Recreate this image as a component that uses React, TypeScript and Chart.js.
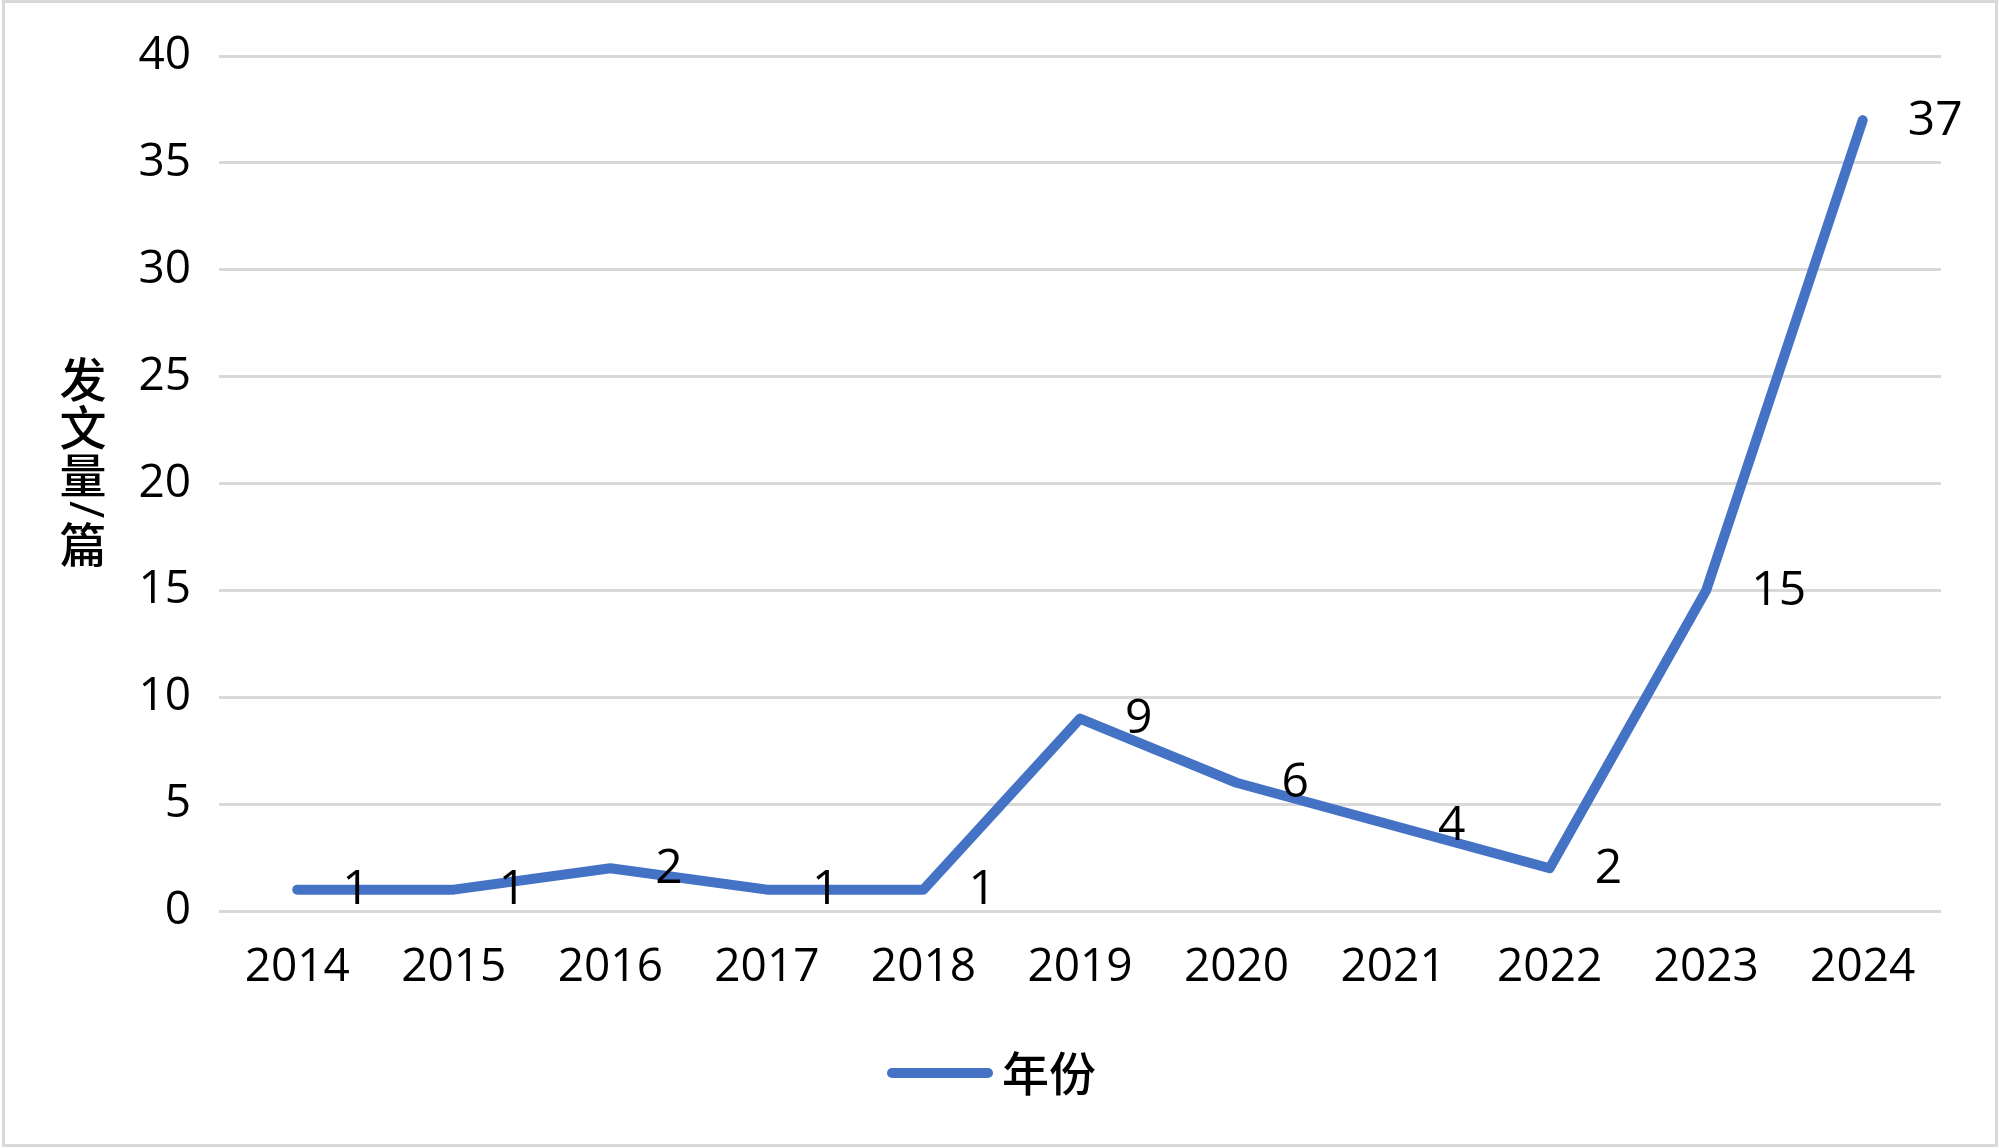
import React, { useEffect, useRef } from "react";
import { Chart, registerables } from "chart.js";

Chart.register(...registerables);

const years = ["2014", "2015", "2016", "2017", "2018", "2019", "2020", "2021", "2022", "2023", "2024"];
const papers = [1, 1, 2, 1, 1, 9, 6, 4, 2, 15, 37];
const seriesName = "年份";
const yTitleChars = ["发", "文", "量", "/", "篇"];

const LINE_COLOR = "#4472C4";
const NUM_FONT = '"Open Sans", "Noto Sans CJK SC", sans-serif';
const CJK_FONT = '"Noto Sans CJK SC", "Open Sans", sans-serif';

const decorPlugin = {
  id: "decor",
  beforeDraw(chart: any) {
    const ctx = chart.ctx;
    ctx.save();
    ctx.fillStyle = "#ffffff";
    ctx.fillRect(0, 0, chart.width, chart.height);
    ctx.restore();
  },
  afterDatasetsDraw(chart: any) {
    const ctx = chart.ctx;
    const meta = chart.getDatasetMeta(0);
    ctx.save();
    ctx.font = `500 48px ${NUM_FONT}`;
    ctx.fillStyle = "#000000";
    ctx.textAlign = "left";
    ctx.textBaseline = "middle";
    meta.data.forEach((pt: any, i: number) => {
      ctx.fillText(String(papers[i]), pt.x + 45, pt.y + 1);
    });
    ctx.restore();
  },
  afterDraw(chart: any) {
    const ctx = chart.ctx;
    ctx.save();
    // outer border
    ctx.strokeStyle = "#d9d9d9";
    ctx.lineWidth = 3;
    ctx.strokeRect(3.5, 1.5, chart.width - 7, chart.height - 4);

    // vertical stacked y title
    ctx.fillStyle = "#000000";
    ctx.textAlign = "center";
    ctx.textBaseline = "middle";
    let cursor = 355;
    const cx = 83;
    yTitleChars.forEach((ch) => {
      const isCJK = /[\u4e00-\u9fff]/.test(ch);
      if (isCJK) {
        ctx.font = `500 47px ${CJK_FONT}`;
        const adv = 48;
        ctx.fillText(ch, cx, cursor + adv / 2);
        cursor += adv;
      } else {
        ctx.font = `500 47px ${NUM_FONT}`;
        const w = ctx.measureText(ch).width;
        const adv = w + 4;
        ctx.save();
        ctx.translate(cx, cursor + adv / 2);
        ctx.rotate(Math.PI / 2);
        ctx.fillText(ch, 0, 0);
        ctx.restore();
        cursor += adv;
      }
    });

    // legend
    const ly = 1073;
    ctx.strokeStyle = LINE_COLOR;
    ctx.lineWidth = 10;
    ctx.lineCap = "round";
    ctx.beginPath();
    ctx.moveTo(892, ly);
    ctx.lineTo(988, ly);
    ctx.stroke();
    ctx.font = `500 47px ${CJK_FONT}`;
    ctx.textAlign = "left";
    ctx.textBaseline = "middle";
    ctx.fillStyle = "#000000";
    ctx.fillText(seriesName, 1002, ly);
    ctx.restore();
  },
};

export default function App() {
  const ref = useRef<HTMLCanvasElement | null>(null);

  useEffect(() => {
    document.body.style.margin = "0";
    if (!ref.current) return;
    const chart = new Chart(ref.current, {
      type: "line",
      data: {
        labels: years,
        datasets: [
          {
            label: seriesName,
            data: papers,
            borderColor: LINE_COLOR,
            backgroundColor: LINE_COLOR,
            borderWidth: 10,
            borderCapStyle: "round",
            borderJoinStyle: "round",
            pointRadius: 0,
            pointHoverRadius: 0,
            tension: 0,
          },
        ],
      },
      options: {
        responsive: false,
        animation: false,
        events: [],
        layout: { padding: { left: 0, right: 59, top: 56, bottom: 137 } },
        plugins: {
          legend: { display: false },
          tooltip: { enabled: false },
          title: { display: false },
        },
        scales: {
          x: {
            type: "category",
            offset: true,
            grid: { display: false, drawTicks: false },
            border: { display: false },
            ticks: {
              padding: 29,
              color: "#000000",
              font: { family: NUM_FONT, size: 46, weight: "500" },
              maxRotation: 0,
              autoSkip: false,
            },
            afterFit: (scale: any) => {
              scale.height = 100;
            },
          },
          y: {
            min: 0,
            max: 40,
            ticks: {
              stepSize: 5,
              padding: 28,
              color: "#000000",
              font: { family: NUM_FONT, size: 46, weight: "500" },
            },
            grid: { color: "#d9d9d9", lineWidth: 3, drawTicks: false },
            border: { display: false },
            afterFit: (scale: any) => {
              scale.width = 219;
            },
          },
        },
      },
      plugins: [decorPlugin],
    });
    return () => chart.destroy();
  }, []);

  return (
    <div style={{ position: "absolute", left: 0, top: 0, width: 2000, height: 1148 }}>
      <canvas ref={ref} width={2000} height={1148} style={{ display: "block", width: 2000, height: 1148 }} />
    </div>
  );
}
